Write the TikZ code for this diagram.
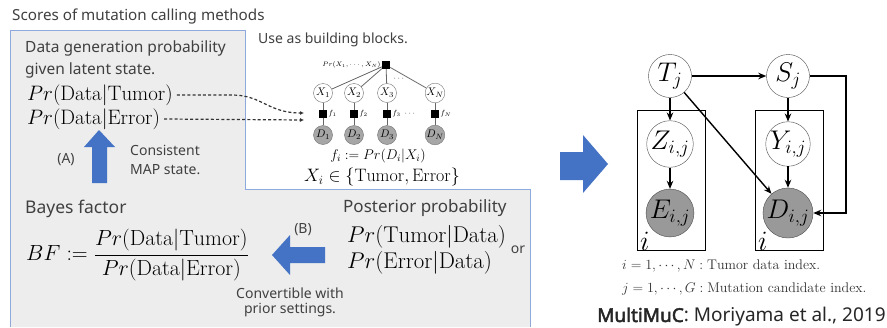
\RequirePackage{fix-cm}
\documentclass[tikz,border=0pt]{standalone}
\usepackage{fontspec}
\setsansfont{Noto Sans}
\newfontfamily\citebold{Noto Sans}[FakeBold=2.5]
\usetikzlibrary{arrows.meta}
\definecolor{boxfill}{HTML}{EDEDED}
\definecolor{boxline}{HTML}{8EA9DB}
\definecolor{arrblue}{HTML}{4472C4}

\begin{document}
\begin{tikzpicture}[x=1pt,y=-1pt,
  sans/.style={font=\sffamily\fontsize{14}{16}\selectfont,text=black!75,inner sep=0pt},
  sansbig/.style={sans,font=\sffamily\fontsize{17.5}{20}\selectfont},
  bigmath/.style={font=\fontsize{20.9}{23}\selectfont,inner sep=0pt},
  var/.style={circle,draw=black!55,fill=white,minimum size=19pt,inner sep=0pt,font=\fontsize{11}{12}\selectfont},
  obs/.style={var,fill=black!35},
  fac/.style={rectangle,fill=black,minimum size=8pt,inner sep=0pt},
  tinymath/.style={font=\fontsize{7.5}{8}\selectfont,inner sep=1pt},
  fedge/.style={draw=black!60,line width=0.8pt},
  rv/.style={circle,draw=black!70,fill=white,minimum size=43pt,inner sep=0pt,font=\fontsize{27}{29}\selectfont},
  rvobs/.style={rv,fill=black!40},
  gedge/.style={-{Stealth[length=8pt,width=6.5pt]},line width=1.4pt},
  dashlink/.style={-{Latex[length=4pt,width=4pt]},dash pattern=on 3pt off 2.2pt,line width=1.2pt,black!80},
  capmath/.style={font=\fontsize{14}{16}\selectfont,text=black!80,inner sep=0pt},
]
\useasboundingbox (0,0) rectangle (887,327);
\fill[white] (0,0) rectangle (887,327);

% grey panel of the scores
\fill[boxfill] (10,30) -- (245,30) -- (245,189) -- (530,189) -- (530,327) -- (10,327) -- cycle;
\draw[boxline,line width=1pt] (10,327) -- (10,30) -- (245,30) -- (245,189) -- (530,189) -- (530,327);
\node[sans,anchor=west,font=\sffamily\fontsize{15.2}{17}\selectfont] (title) at (12,17) {Scores of mutation calling methods};

% upper part: data generation probability
\node[sans,anchor=west,font=\sffamily\fontsize{15.5}{17}\selectfont] (gen1) at (25,48) {Data generation probability};
\node[sans,anchor=west,font=\sffamily\fontsize{15.5}{17}\selectfont] (gen2) at (25,70) {given latent state.};
\node[bigmath,anchor=west] (prT) at (27,95) {$Pr(\mathrm{Data}|\mathrm{Tumor})$};
\node[bigmath,anchor=west] (prE) at (27,119) {$Pr(\mathrm{Data}|\mathrm{Error})$};
\fill[arrblue] (92,183) -- (92,147) -- (84,147) -- (99,130) -- (115,147) -- (107,147) -- (107,183) -- cycle;
\node[sans] (labA) at (66,160) {(A)};
\node[sans,anchor=west] (map1) at (130,150) {Consistent};
\node[sans,anchor=west] (map2) at (130,170) {MAP state.};

% factor graph
\node[sans,anchor=west] (blocks) at (258,40) {Use as building blocks.};
\node[fac] (ftop) at (386,65) {};
\node[tinymath,left,font=\fontsize{6.5}{7}\selectfont] (joint) at (ftop.west) {$Pr(X_1,\cdots,X_N)$};
\node[var] (x1) at (323,93) {$X_1$};
\node[var] (x2) at (354,93) {$X_2$};
\node[var] (x3) at (387,93) {$X_3$};
\node[var] (xN) at (435,93) {$X_N$};
\node[fac] (f1) at (323,114) {};
\node[fac] (f2) at (354,114) {};
\node[fac] (f3) at (387,114) {};
\node[fac] (fN) at (435,114) {};
\node[tinymath,right] (lf1) at (f1.east) {$f_1$};
\node[tinymath,right] (lf2) at (f2.east) {$f_2$};
\node[tinymath,right] (lf3) at (f3.east) {$f_3\;\cdots$};
\node[tinymath,right] (lfN) at (fN.east) {$f_N$};
\node[obs] (d1) at (323,135) {$D_1$};
\node[obs] (d2) at (354,135) {$D_2$};
\node[obs] (d3) at (387,135) {$D_3$};
\node[obs] (dN) at (435,135) {$D_N$};
\draw[fedge] (ftop) -- (x1);
\draw[fedge] (ftop) -- (x2);
\draw[fedge] (ftop) -- (x3);
\draw[fedge] (ftop) -- (xN);
\node[tinymath] (tdots) at (399,79) {$\cdots$};
\draw[fedge] (x1) -- (f1) -- (d1);
\draw[fedge] (x2) -- (f2) -- (d2);
\draw[fedge] (x3) -- (f3) -- (d3);
\draw[fedge] (xN) -- (fN) -- (dN);
\node[font=\fontsize{14}{16}\selectfont] (fdef) at (378,156) {$f_i := Pr(D_i|X_i)$};
\node[font=\fontsize{18}{20}\selectfont] (states) at (382,177) {$X_i\in\{\mathrm{Tumor},\mathrm{Error}\}$};

% dashed links into the factor f_1
\coordinate (bendT) at (232,95);
\coordinate (inT) at (304,113);
\coordinate (inE) at (304,120);
\draw[dashlink] ([xshift=4pt]prT.east) -- (bendT) .. controls (262,95) and (268,113) .. (inT);
\draw[dashlink] ([xshift=4pt]prE.east) -- (inE);

% lower part: Bayes factor and posterior
\node[sansbig,anchor=west] (bayes) at (25,209) {Bayes factor};
\node[font=\fontsize{21.9}{24}\selectfont,anchor=west,inner sep=0pt] (bf) at (26,255)
  {$\displaystyle BF := \frac{Pr(\mathrm{Data}|\mathrm{Tumor})}{Pr(\mathrm{Data}|\mathrm{Error})}$};
\fill[arrblue] (325,247) -- (290,247) -- (290,235) -- (272,255) -- (290,275) -- (290,263) -- (325,263) -- cycle;
\node[sans] (labB) at (303,230) {(B)};
\node[sans] (conv1) at (290,293) {Convertible with};
\node[sans] (conv2) at (290,310) {prior settings.};
\node[sansbig,font=\sffamily\fontsize{17}{20}\selectfont,anchor=west] (post) at (343,208) {Posterior probability};
\node[bigmath,font=\fontsize{22.8}{25}\selectfont,anchor=west] (prTd) at (347,237) {$Pr(\mathrm{Tumor}|\mathrm{Data})$};
\node[bigmath,font=\fontsize{22.8}{25}\selectfont,anchor=west] (prEd) at (347,263) {$Pr(\mathrm{Error}|\mathrm{Data})$};
\node[sans] (orlbl) at (518,250) {or};

% arrow to the model
\fill[arrblue] (560,152) -- (583,152) -- (583,135) -- (608,164) -- (583,193) -- (583,180) -- (560,180) -- cycle;

% MultiMuC graphical model
\draw[line width=0.9pt] (637,110) rectangle (705,250);
\draw[line width=0.9pt] (755,110) rectangle (823,250);
\node[font=\fontsize{28}{30}\selectfont,anchor=south west,inner sep=0pt] (plateL) at (640,251) {$i$};
\node[font=\fontsize{28}{30}\selectfont,anchor=south west,inner sep=0pt] (plateR) at (758,251) {$i$};
\node[rv] (T) at (670,76) {$T_j$};
\node[rv] (S) at (788,76) {$S_j$};
\node[rv] (Z) at (670,144) {$Z_{i,j}$};
\node[rv] (Y) at (788,144) {$Y_{i,j}$};
\node[rvobs] (E) at (670,213) {$E_{i,j}$};
\node[rvobs] (D) at (788,213) {$D_{i,j}$};
\draw[gedge] (T) -- (Z);
\draw[gedge] (Z) -- (E);
\draw[gedge] (T) -- (S);
\draw[gedge] (S) -- (Y);
\draw[gedge] (Y) -- (D);
\draw[gedge] (T) -- (D);
\coordinate (Sturn) at (846,76);
\coordinate (Dturn) at (846,213);
\draw[gedge] (S.east) -- (Sturn) -- (Dturn) -- (D.east);

% captions
\node[capmath,anchor=west] (capi) at (622,266) {$i=1,\cdots,N:\mathrm{Tumor\ data\ index.}$};
\node[capmath,anchor=west] (capj) at (622,289) {$j=1,\cdots,G:\mathrm{Mutation\ candidate\ index.}$};
\node[anchor=west,inner sep=0pt,font=\sffamily\fontsize{19}{21}\selectfont,text=black!85] (cite) at (597,317) {{\citebold MultiMuC}: Moriyama et al., 2019};
\end{tikzpicture}
\end{document}
